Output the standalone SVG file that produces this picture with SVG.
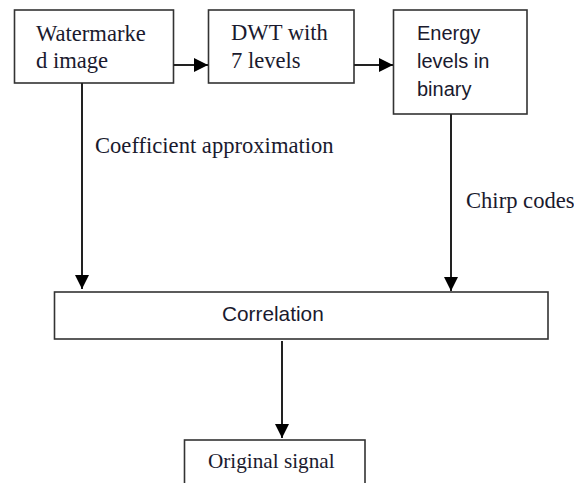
<svg xmlns="http://www.w3.org/2000/svg" width="574" height="483" viewBox="0 0 574 483">
<defs>
<marker id="ah" viewBox="0 0 14 14" refX="14" refY="7" markerWidth="14" markerHeight="14" markerUnits="userSpaceOnUse" orient="auto">
<path d="M0,0 L14,7 L0,14 z" fill="#000"/>
</marker>
<style>
.box{fill:#fff;stroke:#333;stroke-width:1.6}
.serif{font-family:"Liberation Serif","Times New Roman",serif;font-size:22.6px;fill:#1a1a2e}
.sans{font-family:"Liberation Sans",Arial,sans-serif;font-size:20px;fill:#1a1a2e}
.conn{stroke:#222;stroke-width:2;fill:none}
</style>
</defs>
<rect width="574" height="483" fill="#fff"/>
<g id="watermarked">
<rect class="box" x="14.5" y="10" width="159" height="73"/>
<text class="serif" x="36" y="41">Watermarke</text>
<text class="serif" x="36" y="68">d image</text>
</g>
<g id="dwt">
<rect class="box" x="208.5" y="10" width="145.5" height="73"/>
<text class="serif" x="231" y="40">DWT with</text>
<text class="serif" x="231" y="68">7 levels</text>
</g>
<g id="energy">
<rect class="box" x="393.5" y="10" width="133.5" height="104"/>
<text class="sans" x="417" y="40">Energy</text>
<text class="sans" x="417" y="68">levels in</text>
<text class="sans" x="417" y="96">binary</text>
</g>
<g id="correlation">
<rect class="box" x="54.5" y="292" width="493.5" height="47"/>
<text class="sans" x="222" y="321" style="font-size:20.8px">Correlation</text>
</g>
<g id="original">
<rect class="box" x="184.5" y="440" width="180.5" height="60"/>
<text class="serif" x="208" y="468" style="font-size:21.2px">Original signal</text>
</g>
<g id="connectors">
<line class="conn" x1="173.5" y1="65" x2="208" y2="65" marker-end="url(#ah)"/>
<line class="conn" x1="354" y1="65" x2="393" y2="65" marker-end="url(#ah)"/>
<line class="conn" x1="82" y1="83" x2="82" y2="289" marker-end="url(#ah)"/>
<line class="conn" x1="451" y1="114" x2="451" y2="291" marker-end="url(#ah)"/>
<line class="conn" x1="282" y1="341" x2="282" y2="438" marker-end="url(#ah)"/>
<text class="serif" x="95" y="153">Coefficient approximation</text>
<text class="serif" x="466" y="208">Chirp codes</text>
</g>
</svg>
